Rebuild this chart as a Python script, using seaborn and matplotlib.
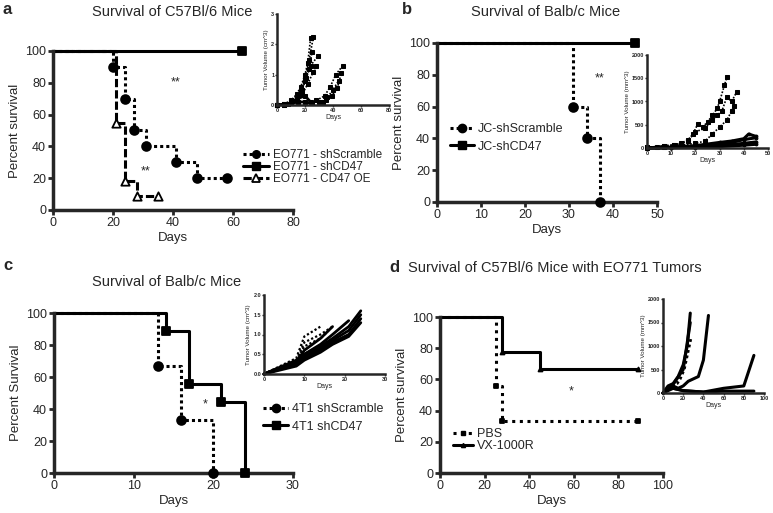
import matplotlib
matplotlib.use("Agg")
import matplotlib.pyplot as plt
from matplotlib.lines import Line2D
import seaborn as sns

# ---- survival data (days, percent survival) ----
a_scr_days = [0, 20, 24, 27, 31, 41, 48, 58]
a_scr_surv = [100, 90, 70, 50, 40, 30, 20, 20]
a_cd47_days = [0, 63]
a_cd47_surv = [100, 100]
a_oe_days = [0, 21, 24, 28, 35]
a_oe_surv = [100, 54.5, 18.2, 9.1, 9.1]

b_scr_days = [0, 31, 34, 37]
b_scr_surv = [100, 60, 40, 0]
b_cd47_days = [0, 45]
b_cd47_surv = [100, 100]

c_scr_days = [0, 13, 16, 20]
c_scr_surv = [100, 66.7, 33.3, 0]
c_cd47_days = [0, 14, 17, 21, 24]
c_cd47_surv = [100, 88.9, 55.6, 44.4, 0]

d_pbs_days = [0, 25, 28, 89]
d_pbs_surv = [100, 55.6, 33.3, 33.3]
d_vx_days = [0, 28, 45, 89]
d_vx_surv = [100, 77.8, 66.7, 66.7]

# ---- tumour growth insets (per mouse) ----
ia_scr = [
    ([0, 5, 10, 14, 17, 20, 22, 24], [0, 0.03, 0.15, 0.35, 0.6, 1.0, 1.4, 2.2]),
    ([0, 5, 10, 14, 17, 20, 23, 26], [0, 0.02, 0.12, 0.3, 0.5, 0.9, 1.5, 2.25]),
    ([0, 5, 10, 14, 17, 20, 23, 25], [0, 0.02, 0.1, 0.25, 0.45, 0.8, 1.2, 1.75]),
    ([0, 5, 10, 14, 18, 21, 24, 29], [0, 0.01, 0.08, 0.2, 0.5, 0.9, 1.3, 1.6]),
    ([0, 5, 10, 14, 18, 22, 26, 28], [0, 0.01, 0.05, 0.15, 0.35, 0.7, 1.1, 1.3]),
    ([28, 34, 38, 42, 47], [0.15, 0.3, 0.6, 1.0, 1.3]),
    ([30, 35, 39, 43, 46], [0.1, 0.15, 0.3, 0.55, 1.05]),
    ([33, 36, 40, 44], [0.1, 0.25, 0.5, 0.8]),
]
ia_cd47 = [
    ([0, 10, 15, 20, 25], [0, 0.05, 0.1, 0.1, 0.05]),
    ([0, 8, 14, 20, 24], [0, 0.02, 0.2, 0.3, 0.1]),
]

ib_scr = [
    ([0, 4, 7, 11, 14, 17, 19, 21, 23, 25, 27, 29, 30, 32, 33],
     [20, 30, 50, 70, 100, 180, 300, 520, 450, 560, 700, 850, 1000, 1350, 1520]),
    ([0, 7, 11, 14, 17, 20, 24, 27, 29, 31, 33, 35, 37],
     [15, 40, 60, 90, 150, 350, 420, 600, 700, 800, 1100, 1000, 1200]),
    ([0, 7, 14, 20, 24, 27, 30, 33, 35, 36],
     [10, 30, 60, 100, 150, 300, 450, 600, 800, 900]),
]
ib_cd47 = [
    ([0, 10, 20, 30, 35, 40, 42, 45], [0, 20, 50, 120, 150, 200, 300, 250]),
    ([0, 10, 20, 30, 35, 40, 45], [0, 10, 30, 80, 120, 180, 220]),
    ([0, 10, 20, 30, 40, 45], [0, 10, 20, 50, 100, 130]),
    ([0, 10, 20, 30, 40, 45], [0, 5, 10, 30, 60, 80]),
]

ic_cd47 = [
    ([0, 8, 10, 14, 17, 21, 24], [0, 0.35, 0.5, 0.7, 0.9, 1.2, 1.6]),
    ([0, 8, 10, 14, 17, 21, 24], [0, 0.3, 0.45, 0.65, 0.85, 1.1, 1.5]),
    ([0, 8, 10, 14, 17, 21, 24], [0, 0.25, 0.4, 0.6, 0.8, 1.0, 1.4]),
    ([0, 8, 10, 14, 17, 21, 24], [0, 0.2, 0.35, 0.55, 0.75, 0.95, 1.3]),
    ([0, 8, 10, 14, 17, 21], [0, 0.3, 0.5, 0.75, 1.0, 1.35]),
    ([0, 8, 10, 14, 17], [0, 0.3, 0.6, 0.9, 1.2]),
]
ic_scr = [
    ([0, 8, 10, 14], [0, 0.4, 0.95, 1.2]),
    ([0, 8, 10, 14, 17], [0, 0.35, 0.8, 1.0, 1.2]),
    ([0, 8, 10, 14, 16], [0, 0.3, 0.7, 0.9, 1.1]),
]

id_pbs = [
    ([0, 7, 10, 14, 17, 21, 25, 28], [0, 100, 150, 200, 300, 500, 900, 1200]),
]
id_vx = [
    ([0, 5, 10, 15, 20, 24, 27], [0, 150, 200, 350, 600, 1000, 1700]),
    ([0, 5, 10, 15, 20, 25, 30, 35, 40, 45], [0, 100, 150, 100, 150, 250, 300, 350, 700, 1650]),
    ([0, 5, 10, 20, 40, 55, 60, 80, 90], [0, 80, 100, 50, 20, 80, 100, 150, 800]),
    ([0, 10, 20, 40, 60, 90], [0, 100, 50, 20, 40, 40]),
    ([0, 5, 10, 20, 27], [0, 100, 180, 500, 1500]),
]

sns.set_style("ticks")
plt.rcParams["font.family"] = ["Liberation Sans", "DejaVu Sans"]
plt.rcParams["lines.dash_capstyle"] = "butt"

W, H = 773, 513
fig = plt.figure(figsize=(W / 100, H / 100), dpi=100)

DOT = (0, (1, 1))
DASH = (0, (2.7, 1))


def box(l, t, r, b):
    return [l / W, 1 - b / H, (r - l) / W, (b - t) / H]


def style_main(ax, xmax, xticks, ylabel):
    ax.set_xlim(0, xmax)
    ax.set_ylim(0, 100)
    ax.set_xticks(xticks)
    ax.set_yticks([0, 20, 40, 60, 80, 100])
    sns.despine(ax=ax)
    for s in ["left", "bottom"]:
        ax.spines[s].set_linewidth(2.5)
    ax.tick_params(width=2, length=3.5, labelsize=9, pad=1.5)
    ax.set_xlabel("Days", fontsize=9.5, labelpad=2)
    ax.set_ylabel(ylabel, fontsize=9.5, labelpad=3)
    ax.patch.set_alpha(0)


def survival(ax, days, surv, ls, marker, face, size, lw=2.2):
    sns.lineplot(x=days, y=surv, ax=ax, color="black", lw=lw, linestyle=ls,
                 drawstyle="steps-post", estimator=None, sort=False, clip_on=False)
    if marker:
        sns.scatterplot(x=days[1:], y=surv[1:], ax=ax, marker=marker, s=size,
                        color=face, edgecolor="black", linewidth=1.3,
                        clip_on=False, zorder=5)


def style_inset(ax, xmax, xticks, ymax, yticks, ylabel, fmt):
    ax.set_xlim(0, xmax)
    ax.set_ylim(0, ymax)
    ax.set_xticks(xticks)
    ax.set_yticks(yticks)
    ax.set_yticklabels([fmt.format(v) for v in yticks])
    sns.despine(ax=ax)
    for s in ["left", "bottom"]:
        ax.spines[s].set_linewidth(1.8)
    ax.tick_params(width=1, length=1.5, labelsize=4, pad=0.5)
    for lab in ax.get_xticklabels() + ax.get_yticklabels():
        lab.set_fontweight("bold")
    ax.set_xlabel("Days", fontsize=5, labelpad=1)
    ax.set_ylabel(ylabel, fontsize=4.5, labelpad=1.5)
    ax.patch.set_alpha(0)


def curves(ax, data, ls, lw, marker=None, ms=2):
    for d, v in data:
        sns.lineplot(x=d, y=v, ax=ax, color="black", lw=lw, linestyle=ls,
                     estimator=None, sort=False, marker=marker, markersize=ms,
                     markeredgecolor="black", clip_on=False)


def legend(handles, labels, x, y, spacing, hlen, size=9):
    fig.legend(handles, labels, loc="center left", bbox_to_anchor=(x / W, 1 - y / H),
               frameon=False, fontsize=size, borderpad=0, borderaxespad=0,
               labelspacing=spacing, handlelength=hlen, handletextpad=0.3, numpoints=1)


# ---- panel a ----
ax = fig.add_axes(box(53, 51, 293, 210))
survival(ax, a_scr_days, a_scr_surv, DOT, "o", "black", 40)
survival(ax, a_cd47_days, a_cd47_surv, "-", "s", "black", 40)
survival(ax, a_oe_days, a_oe_surv, DASH, "^", "white", 36)
style_main(ax, 80, [0, 20, 40, 60, 80], "Percent survival")
ax.text(41, 80, "**", ha="center", va="center", fontsize=9)
ax.text(31, 24, "**", ha="center", va="center", fontsize=9)
legend([Line2D([], [], color="k", lw=2.2, ls=DOT, marker="o", ms=5.5),
        Line2D([], [], color="k", lw=2.2, ls="-", marker="s", ms=5.5),
        Line2D([], [], color="k", lw=2.2, ls=DASH, marker="^", ms=5.5, mfc="white", mew=1.3)],
       ["EO771 - shScramble", "EO771 - shCD47", "EO771 - CD47 OE"], 243, 167, 0.0, 2.2, 8.5)

ia = fig.add_axes(box(277, 14, 389, 105))
curves(ia, ia_scr, DOT, 1.2, "s", 2.5)
curves(ia, ia_cd47, "-", 2.0, "s", 2.5)
style_inset(ia, 80, [0, 20, 40, 60, 80], 3, [0, 1, 2, 3], "Tumor Volume (cm^3)", "{:d}")

# ---- panel b ----
ax = fig.add_axes(box(437, 43, 657, 202))
survival(ax, b_scr_days, b_scr_surv, DOT, "o", "black", 40)
survival(ax, b_cd47_days, b_cd47_surv, "-", "s", "black", 40)
style_main(ax, 50, [0, 10, 20, 30, 40, 50], "Percent survival")
ax.text(37, 78, "**", ha="center", va="center", fontsize=9)
legend([Line2D([], [], color="k", lw=2.2, ls=DOT, marker="o", ms=6),
        Line2D([], [], color="k", lw=2.2, ls="-", marker="s", ms=6)],
       ["JC-shScramble", "JC-shCD47"], 450, 138, 0.45, 1.9)

ib = fig.add_axes(box(647, 55, 768, 148))
curves(ib, ib_scr, DOT, 1.2, "s", 2.5)
curves(ib, ib_cd47, "-", 2.2, "o", 2)
style_inset(ib, 50, [0, 10, 20, 30, 40, 50], 2000, [0, 500, 1000, 1500, 2000],
            "Tumor Volume (mm^3)", "{:d}")

# ---- panel c ----
ax = fig.add_axes(box(54, 313, 293, 473))
survival(ax, c_scr_days, c_scr_surv, DOT, "o", "black", 40)
survival(ax, c_cd47_days, c_cd47_surv, "-", "s", "black", 40)
style_main(ax, 30, [0, 10, 20, 30], "Percent Survival")
ax.text(19, 43, "*", ha="center", va="center", fontsize=9)
legend([Line2D([], [], color="k", lw=2.2, ls=DOT, marker="o", ms=6),
        Line2D([], [], color="k", lw=2.2, ls="-", marker="s", ms=6)],
       ["4T1 shScramble", "4T1 shCD47"], 263, 418, 0.45, 2.0)

ic = fig.add_axes(box(264, 295, 385, 374))
curves(ic, ic_cd47, "-", 2.0)
curves(ic, ic_scr, DOT, 1.6)
style_inset(ic, 30, [0, 10, 20, 30], 2.0, [0.0, 0.5, 1.0, 1.5, 2.0],
            "Tumor Volume (cm^3)", "{:.1f}")

# ---- panel d ----
ax = fig.add_axes(box(440, 317, 663, 473))
survival(ax, d_pbs_days, d_pbs_surv, (0, (1, 1.5)), "s", "black", 8)
survival(ax, d_vx_days, d_vx_surv, "-", "^", "black", 8)
style_main(ax, 100, [0, 20, 40, 60, 80, 100], "Percent survival")
ax.text(59, 52, "*", ha="center", va="center", fontsize=9)
legend([Line2D([], [], color="k", lw=2.2, ls=(0, (1, 1.5)), marker="s", ms=3),
        Line2D([], [], color="k", lw=2.2, ls="-", marker="^", ms=3)],
       ["PBS", "VX-1000R"], 453, 440, 0.0, 1.6)

idd = fig.add_axes(box(663, 299, 764, 393))
curves(idd, id_pbs, DOT, 2.0)
curves(idd, id_vx, "-", 2.2)
style_inset(idd, 100, [0, 20, 40, 60, 80, 100], 2000, [0, 500, 1000, 1500, 2000],
            "Tumor Volume (mm^3)", "{:d}")

# ---- titles and panel letters ----
fig.text(7 / W, 1 - 10 / H, "a", fontsize=12, fontweight="bold", ha="center", va="center")
fig.text(407 / W, 1 - 10 / H, "b", fontsize=12, fontweight="bold", ha="center", va="center")
fig.text(8 / W, 1 - 265 / H, "c", fontsize=12, fontweight="bold", ha="center", va="center")
fig.text(394 / W, 1 - 268 / H, "d", fontsize=12, fontweight="bold", ha="center", va="center")
fig.text(172 / W, 1 - 12 / H, "Survival of C57Bl/6 Mice", fontsize=10.5, ha="center", va="center")
fig.text(546 / W, 1 - 12 / H, "Survival of Balb/c Mice", fontsize=10.5, ha="center", va="center")
fig.text(167 / W, 1 - 282 / H, "Survival of Balb/c Mice", fontsize=10.5, ha="center", va="center")
fig.text(408 / W, 1 - 268 / H, "Survival of C57Bl/6 Mice with EO771 Tumors", fontsize=10.5,
         ha="left", va="center")

fig.savefig("out.png", dpi=100)
